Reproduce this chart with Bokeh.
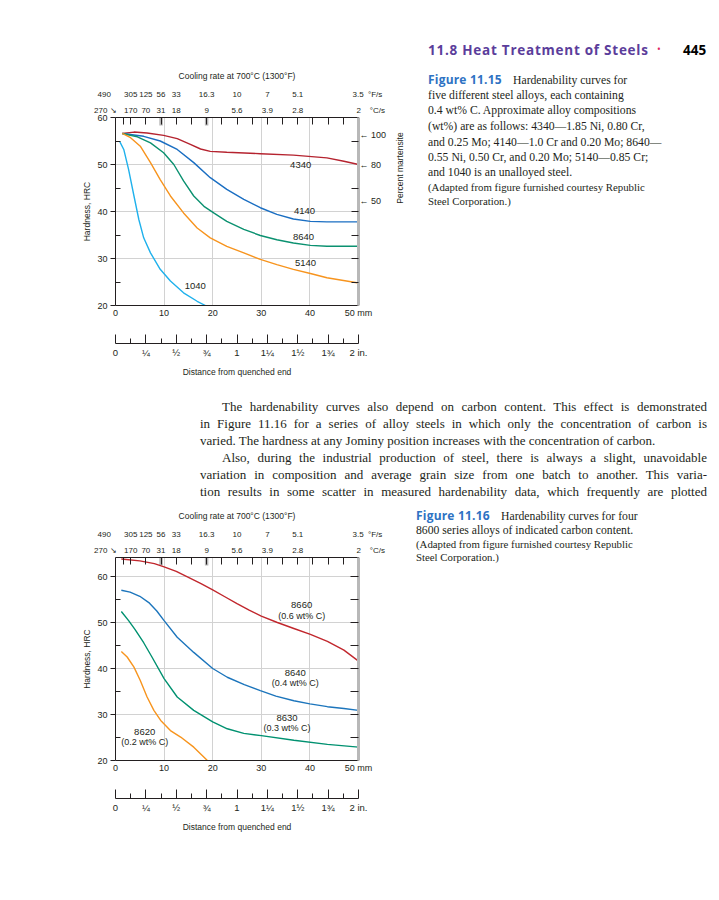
import math
from bokeh.plotting import figure
from bokeh.models import LinearAxis, Range1d, FixedTicker, Label, Div
from bokeh.layouts import column, row
from bokeh.embed import file_html
from bokeh.resources import INLINE

# ======================= DATA =======================
# Figure 11.15: hardness (HRC) vs distance from quenched end (mm), 0.4 wt% C steels
d_4340 = [1.4, 3.8, 6.5, 9.9, 12.7, 15.4, 17.5, 19.5, 22.9, 29.8, 36.6, 43.5, 47.0, 50.0]
h_4340 = [56.6, 56.9, 56.7, 56.2, 55.5, 54.3, 53.3, 52.8, 52.6, 52.3, 52.0, 51.4, 50.7, 50.0]
d_4140 = [1.4, 5.8, 9.2, 12.7, 16.1, 19.5, 22.9, 26.4, 29.8, 33.2, 36.6, 40.1, 43.5, 50.0]
h_4140 = [56.6, 56.0, 55.0, 53.2, 50.4, 47.2, 44.7, 42.6, 40.8, 39.4, 38.4, 37.9, 37.8, 37.8]
d_8640 = [1.4, 4.5, 7.2, 9.9, 12.0, 14.0, 16.1, 18.2, 20.2, 22.9, 26.4, 29.8, 33.2, 36.6, 40.1, 43.5, 50.0]
h_8640 = [56.6, 55.9, 54.6, 52.5, 50.0, 46.5, 43.3, 41.1, 39.7, 37.9, 36.2, 34.9, 34.0, 33.3, 32.8, 32.6, 32.6]
d_5140 = [1.4, 3.1, 5.1, 7.2, 9.2, 11.3, 14.0, 16.8, 19.5, 22.9, 26.4, 29.8, 33.2, 36.6, 40.1, 43.5, 50.0]
h_5140 = [56.6, 55.7, 53.9, 50.4, 46.8, 43.3, 39.7, 36.5, 34.4, 32.6, 31.2, 29.8, 28.7, 27.7, 26.8, 25.9, 24.8]
d_1040 = [0.9, 1.7, 2.7, 3.8, 4.8, 5.8, 7.2, 9.2, 11.3, 14.0, 16.8, 18.5]
h_1040 = [54.8, 53.2, 48.9, 43.3, 38.3, 34.4, 31.2, 27.7, 25.2, 22.7, 20.9, 20.0]

# Figure 11.16: 8600 series alloys of different carbon content
d_8660 = [1.2, 5.0, 8.0, 10.0, 12.5, 15.0, 17.5, 20.0, 22.5, 25.0, 27.5, 30.0, 33.3, 36.7, 40.1, 43.6, 47.0, 50.0]
h_8660 = [63.8, 63.4, 62.8, 62.1, 61.1, 59.8, 58.5, 57.1, 55.6, 54.1, 52.7, 51.4, 50.0, 48.7, 47.4, 45.9, 44.0, 41.6]
d_8640b = [1.2, 3.0, 5.0, 7.0, 8.5, 10.0, 12.7, 16.1, 20.0, 23.0, 26.5, 29.8, 33.0, 36.7, 40.0, 43.6, 47.0, 50.0]
h_8640b = [57.0, 56.6, 55.7, 54.2, 52.5, 50.4, 46.8, 43.5, 40.0, 38.1, 36.5, 35.2, 34.0, 33.0, 32.3, 31.7, 31.3, 30.9]
d_8630 = [1.2, 2.7, 4.0, 5.8, 7.5, 10.0, 12.7, 16.1, 20.0, 23.0, 26.4, 30.0, 36.7, 43.6, 50.0]
h_8630 = [52.4, 50.4, 48.5, 45.6, 42.5, 37.8, 33.8, 30.9, 28.4, 26.9, 25.9, 25.4, 24.4, 23.5, 22.9]
d_8620 = [1.2, 2.4, 3.8, 5.1, 6.5, 7.9, 9.3, 11.3, 13.4, 16.1, 18.9]
h_8620 = [43.7, 42.5, 40.3, 37.4, 33.8, 30.9, 28.7, 26.5, 25.1, 22.9, 20.0]

names_top = ["4340", "4140", "8640", "5140", "1040"]
names_bot = ["8660", "8640", "8630", "8620"]
carbon_bot = ["(0.6 wt% C)", "(0.4 wt% C)", "(0.3 wt% C)", "(0.2 wt% C)"]

# cooling-rate scale (positions in inches from the quenched end)
rate_pos_in = [0.0625, 0.125, 0.25, 0.375, 0.5, 0.75, 1.0, 1.25, 1.5, 2.0]
rate_F = ["490", "305", "125", "56", "33", "16.3", "10", "7", "5.1", "3.5"]
rate_C = ["270", "170", "70", "31", "18", "9", "5.6", "3.9", "2.8", "2"]
gray_marks_in = [0.375, 0.75]

# martensite scale (top chart, right side)
mart_hrc = [56.2, 50.0, 42.3]
mart_pct = ["100", "80", "50"]

# axis ticks / labels
hrc_ticks = [20, 30, 40, 50, 60]
hrc_minor = [25, 35, 45, 55]
mm_ticks = [0, 10, 20, 30, 40, 50]
inch_ticks = [0, 0.25, 0.5, 0.75, 1.0, 1.25, 1.5, 1.75, 2.0]
inch_labels = ["0", "\u00bc", "\u00bd", "\u00be", "1", "1\u00bc", "1\u00bd", "1\u00be", "2 in."]
inch_minor = [0.125, 0.375, 0.625, 0.875, 1.125, 1.375, 1.625, 1.875]
MM_PER_IN = 25.0

# ======================= STYLE =======================
SANS = "Liberation Sans"
SERIF = "Liberation Serif"
INK = "#231f20"
GRAY = "#b8b8b8"
NB = "\u00a0"
CHART_W = 392
TEXT_W = 323
FRAME_L, FRAME_R = 115, 358  # page px


def build_chart(height, frame_top, frame_bottom, ymax):
    p = figure(width=CHART_W, height=height, x_range=Range1d(0, 50), y_range=Range1d(20, ymax),
               output_backend="svg", toolbar_location=None,
               min_border_left=FRAME_L, min_border_right=CHART_W - FRAME_R,
               min_border_top=frame_top, min_border_bottom=height - frame_bottom)
    p.outline_line_color = None
    p.background_fill_color = "white"
    p.border_fill_color = "white"
    p.xgrid.ticker = FixedTicker(ticks=[10, 20, 30, 40])
    p.ygrid.ticker = FixedTicker(ticks=[t for t in hrc_ticks if 20 < t < ymax - 0.5])
    p.xgrid.grid_line_color = "#d2d2d2"
    p.ygrid.grid_line_color = "#d2d2d2"

    # --- left axis
    ya = p.yaxis[0]
    ya.ticker = FixedTicker(ticks=hrc_ticks, minor_ticks=hrc_minor)
    ya.major_tick_out = 5
    ya.major_tick_in = 0
    ya.minor_tick_in = 5
    ya.minor_tick_out = 0
    ya.axis_line_color = INK
    ya.major_tick_line_color = INK
    ya.minor_tick_line_color = INK
    ya.major_label_text_font = SANS
    ya.major_label_text_font_size = "9px"
    ya.major_label_text_color = INK
    ya.major_label_standoff = 3
    ya.axis_label = "Hardness, HRC"
    ya.axis_label_text_font = SANS
    ya.axis_label_text_font_size = "8.5px"
    ya.axis_label_text_font_style = "normal"
    ya.axis_label_text_color = INK
    ya.axis_label_standoff = 2

    # --- mm axis
    xa = p.xaxis[0]
    xa.ticker = FixedTicker(ticks=mm_ticks)
    xa.major_label_overrides = {50: "50 mm"}
    xa.major_tick_in = 0
    xa.major_tick_out = 0
    xa.minor_tick_in = 0
    xa.minor_tick_out = 0
    xa.axis_line_color = INK
    xa.major_label_text_font = SANS
    xa.major_label_text_font_size = "9px"
    xa.major_label_text_color = INK
    xa.major_label_standoff = 2
    xa.axis_label = NB
    xa.axis_label_text_font_size = "9px"
    xa.axis_label_standoff = 10

    # --- inch ruler
    p.extra_x_ranges = {"inch": Range1d(0, 50 / MM_PER_IN)}
    ia = LinearAxis(x_range_name="inch", ticker=FixedTicker(ticks=inch_ticks, minor_ticks=inch_minor))
    ia.major_label_overrides = {t: s for t, s in zip(inch_ticks, inch_labels)}
    ia.major_tick_in = 9
    ia.major_tick_out = 0
    ia.minor_tick_in = 5
    ia.minor_tick_out = 0
    ia.axis_line_color = INK
    ia.major_tick_line_color = INK
    ia.minor_tick_line_color = INK
    ia.major_label_text_font = SANS
    ia.major_label_text_font_size = "9.5px"
    ia.major_label_text_color = INK
    ia.major_label_standoff = 3
    ia.axis_label = "Distance from quenched end"
    ia.axis_label_text_font = SANS
    ia.axis_label_text_font_size = "8.5px"
    ia.axis_label_text_font_style = "normal"
    ia.axis_label_text_color = INK
    ia.axis_label_standoff = 6
    p.add_layout(ia, "below")

    # --- cooling-rate axes (top)
    eighths = [k / 16 * MM_PER_IN for k in [1] + list(range(2, 33, 2))]
    ca = LinearAxis(ticker=FixedTicker(ticks=eighths))
    ov = {t: "" for t in eighths}
    lab_c = list(rate_C)
    lab_c[0] = rate_C[0] + NB + "\u2198" + NB * 16          # 270 with arrow, left of frame
    lab_c[-1] = NB * 11 + rate_C[-1] + NB * 4 + "\u00b0C/s"  # 2 + unit
    ov.update({r * MM_PER_IN: s for r, s in zip(rate_pos_in, lab_c)})
    ca.major_label_overrides = ov
    ca.major_tick_in = 7
    ca.major_tick_out = 0
    ca.minor_tick_in = 0
    ca.minor_tick_out = 0
    ca.axis_line_color = INK
    ca.major_tick_line_color = INK
    ca.major_label_text_font = SANS
    ca.major_label_text_font_size = "8px"
    ca.major_label_text_color = INK
    ca.major_label_standoff = 3
    p.add_layout(ca, "above")

    fa = LinearAxis(ticker=FixedTicker(ticks=[r * MM_PER_IN for r in rate_pos_in]))
    lab_f = list(rate_F)
    lab_f[0] = rate_F[0] + NB * 17
    lab_f[-1] = NB * 8 + rate_F[-1] + NB * 2 + "\u00b0F/s"
    fa.major_label_overrides = {r * MM_PER_IN: s for r, s in zip(rate_pos_in, lab_f)}
    fa.axis_line_color = None
    fa.major_tick_in = 0
    fa.major_tick_out = 0
    fa.minor_tick_in = 0
    fa.minor_tick_out = 0
    fa.major_label_text_font = SANS
    fa.major_label_text_font_size = "8px"
    fa.major_label_text_color = INK
    fa.major_label_standoff = 4
    fa.axis_label = "Cooling rate at 700\u00b0C (1300\u00b0F)"
    fa.axis_label_text_font = SANS
    fa.axis_label_text_font_size = "8.5px"
    fa.axis_label_text_font_style = "normal"
    fa.axis_label_text_color = INK
    fa.axis_label_standoff = 6
    p.add_layout(fa, "above")

    # gray marks on the top edge
    gx = [g * MM_PER_IN for g in gray_marks_in]
    ylow = ymax - 8 * (ymax - 20) / (frame_bottom - frame_top)
    p.segment(x0=gx, x1=gx, y0=[ymax] * len(gx), y1=[ylow] * len(gx), line_color=GRAY, line_width=3.5)
    return p


def put(f, x, y, text, size, align="center"):
    f.add_layout(Label(x=x, y=y, text=text, text_font=SANS, text_font_size=f"{size}px",
                       text_color=INK, text_align=align, text_baseline="middle"))


# ---------- HTML helpers for the page text ----------
def line_html(x, y, text, size, family, color=INK, weight="normal", lh=None, extra=""):
    lh = lh or round(size * 1.3)
    top = y - lh / 2
    return (f'<div style="position:absolute;left:{x}px;top:{top}px;white-space:nowrap;'
            f'font-family:\'{family}\';font-size:{size}px;font-weight:{weight};line-height:{lh}px;'
            f'color:{color};{extra}">{text}</div>')


def block(w, h, inner):
    return Div(text=f'<div style="position:relative;width:{w}px;height:{h}px;overflow:visible;">{inner}</div>',
               width=w, height=h, margin=0)


HEAD = "#5b3d9b"
FIGBLUE = "#2e72c3"

# ======================= FIGURE 11.15 =======================
HA = 393
pa = build_chart(HA, 117, 305, 60)
ra = LinearAxis(ticker=FixedTicker(ticks=mart_hrc, minor_ticks=[25, 30, 35, 40, 45, 55]))
ra.major_label_overrides = {h: "\u2190" + NB + s for h, s in zip(mart_hrc, mart_pct)}
ra.axis_line_color = GRAY
ra.axis_line_width = 3
ra.major_tick_out = 0
ra.major_tick_in = 0
ra.minor_tick_in = 7
ra.minor_tick_out = 0
ra.minor_tick_line_color = INK
ra.major_label_text_font = SANS
ra.major_label_text_font_size = "9px"
ra.major_label_text_color = INK
ra.major_label_standoff = 1
pa.add_layout(ra, "right")

colors_top = ["#b5232f", "#1a6ec2", "#0b9170", "#f7941e", "#1fb1ec"]
for d, h, c in zip([d_4340, d_4140, d_8640, d_5140, d_1040], [h_4340, h_4140, h_8640, h_5140, h_1040], colors_top):
    pa.line(d, h, line_color=c, line_width=1.4)
lab_top_x = [38.1, 38.9, 38.7, 39.1, 16.4]
lab_top_y = [50.0, 40.2, 34.6, 29.0, 24.1]
for n, x, y in zip(names_top, lab_top_x, lab_top_y):
    put(pa, x, y, n, 9.5)

ox = CHART_W
capA = []
capA.append(f'<div style="position:absolute;left:{400 - ox}px;top:168px;white-space:nowrap;'
            f'transform:translate(-50%,-50%) rotate(-90deg);font-family:\'{SANS}\';font-size:8.5px;'
            f'line-height:10px;color:{INK};">Percent martensite</div>')
capA.append(line_html(428 - ox, 50, "11.8 Heat Treatment of Steels", 13.5, "Open Sans", HEAD, "bold",
                      extra="letter-spacing:0.75px;"))
capA.append(line_html(657 - ox, 49, "\u2022", 10, "Open Sans", "#e0245e"))
capA.append(line_html(683 - ox, 50, "445", 13.5, "Open Sans", "black", "bold"))
capA.append(line_html(428 - ox, 80, "Figure 11.15", 12, "Open Sans", FIGBLUE, "bold",
                      extra="letter-spacing:0.2px;"))
cap1 = ["Hardenability curves for",
        "five different steel alloys, each containing",
        "0.4 wt% C. Approximate alloy compositions",
        "(wt%) are as follows: 4340\u20141.85 Ni, 0.80 Cr,",
        "and 0.25 Mo; 4140\u20141.0 Cr and 0.20 Mo; 8640\u2014",
        "0.55 Ni, 0.50 Cr, and 0.20 Mo; 5140\u20140.85 Cr;",
        "and 1040 is an unalloyed steel."]
cap1_y = [80, 95, 110, 126, 142, 157, 172]
for i, (t, y) in enumerate(zip(cap1, cap1_y)):
    capA.append(line_html((513 if i == 0 else 428) - ox, y, t, 11.7, SERIF))
capA.append(line_html(428 - ox, 187, "(Adapted from figure furnished courtesy Republic", 10.8, SERIF))
capA.append(line_html(428 - ox, 201, "Steel Corporation.)", 10.8, SERIF))
capA_div = block(TEXT_W, HA, "".join(capA))

# ======================= BODY TEXT =======================
BODY_H = 112
body = ["The hardenability curves also depend on carbon content. This effect is demonstrated",
        "in Figure 11.16 for a series of alloy steels in which only the concentration of carbon is",
        "varied. The hardness at any Jominy position increases with the concentration of carbon.",
        "Also, during the industrial production of steel, there is always a slight, unavoidable",
        "variation in composition and average grain size from one batch to another. This varia-",
        "tion results in some scatter in measured hardenability data, which frequently are plotted"]
body_y = [406, 423, 440, 457, 474, 491]
body_x = [222, 200, 200, 222, 200, 200]
body_just = [True, True, False, True, True, True]
RIGHT_EDGE = 707
bl = []
for t, x, y, j in zip(body, body_x, body_y, body_just):
    w = RIGHT_EDGE - x
    last = "justify" if j else "left"
    bl.append(f'<div style="position:absolute;left:{x}px;top:{y - HA - 8.5}px;width:{w}px;'
              f'font-family:\'{SERIF}\';font-size:13px;line-height:17px;color:{INK};'
              f'text-align:justify;text-align-last:{last};white-space:normal;">{t}</div>')
body_div = block(CHART_W + TEXT_W, BODY_H, "".join(bl))

# ======================= FIGURE 11.16 =======================
TOP_B = HA + BODY_H
HB = 850 - TOP_B
pb = build_chart(HB, 557 - TOP_B, 760 - TOP_B, 20 + (760 - 557) * 40 / 184)
rb = LinearAxis(ticker=FixedTicker(ticks=[25, 30, 35, 40, 45, 50, 55, 60]))
rb.major_label_overrides = {t: "" for t in [25, 30, 35, 40, 45, 50, 55, 60]}
rb.axis_line_color = GRAY
rb.axis_line_width = 3
rb.major_tick_in = 8
rb.major_tick_out = 0
rb.major_tick_line_color = INK
rb.minor_tick_in = 0
rb.minor_tick_out = 0
pb.add_layout(rb, "right")

colors_bot = ["#c1272d", "#1c75bc", "#009170", "#f7941d"]
for d, h, c in zip([d_8660, d_8640b, d_8630, d_8620], [h_8660, h_8640b, h_8630, h_8620], colors_bot):
    pb.line(d, h, line_color=c, line_width=1.4)
lab_bot_x = [38.3, 37.0, 35.3, 6.0]
lab_bot_y = [53.7, 39.1, 29.3, 26.2]
for n, cc, x, y in zip(names_bot, carbon_bot, lab_bot_x, lab_bot_y):
    put(pb, x, y, n, 9.5)
    put(pb, x, y - 2.2, cc, 9)

capB = []
capB.append(line_html(416 - ox, 516 - TOP_B, "Figure 11.16", 12, "Open Sans", FIGBLUE, "bold",
                      extra="letter-spacing:0.2px;"))
capB.append(line_html(501 - ox, 516 - TOP_B, "Hardenability curves for four", 11.7, SERIF))
capB.append(line_html(416 - ox, 530 - TOP_B, "8600 series alloys of indicated carbon content.", 11.7, SERIF))
capB.append(line_html(416 - ox, 544 - TOP_B, "(Adapted from figure furnished courtesy Republic", 10.8, SERIF))
capB.append(line_html(416 - ox, 557 - TOP_B, "Steel Corporation.)", 10.8, SERIF))
capB_div = block(TEXT_W, HB, "".join(capB))

layout = column(row(pa, capA_div, spacing=0), body_div, row(pb, capB_div, spacing=0), spacing=0)
open("out.html", "w").write(file_html(layout, INLINE))
